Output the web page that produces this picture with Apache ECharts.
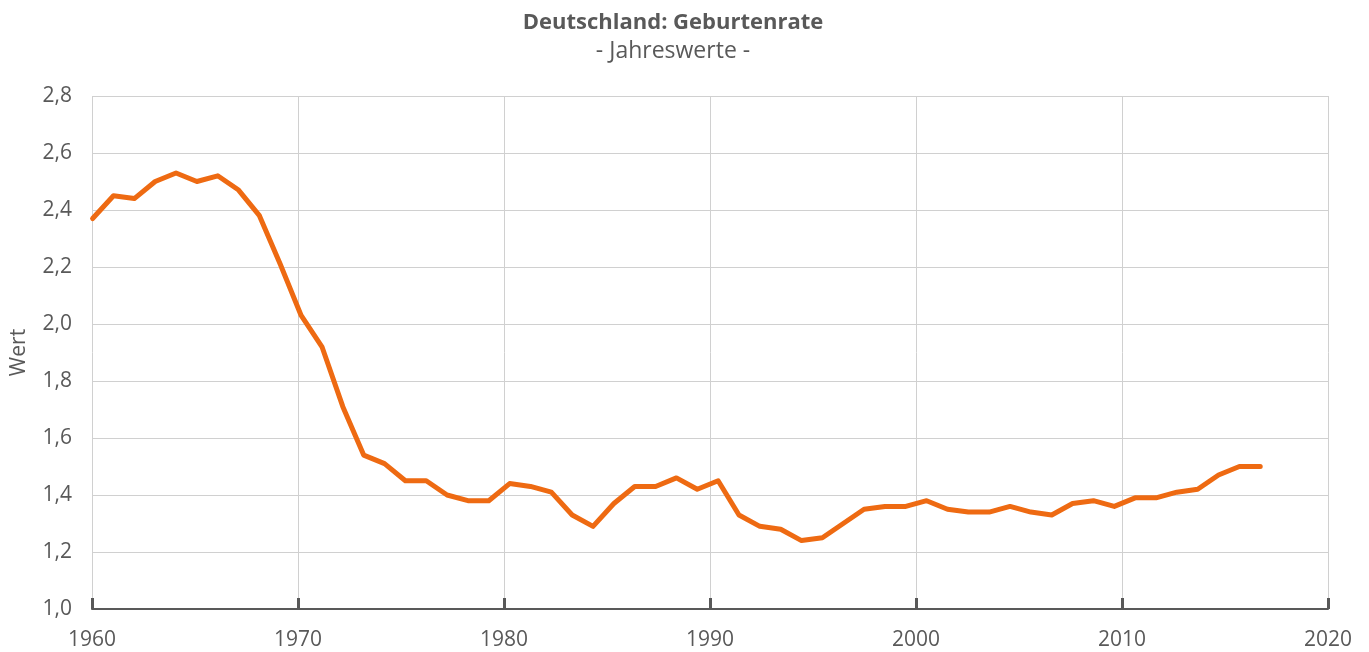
<!DOCTYPE html>
<html>
<head>
<meta charset="utf-8">
<title>Deutschland: Geburtenrate</title>
<script src="https://cdn.jsdelivr.net/npm/echarts@6/dist/echarts.min.js"></script>
<style>
  html, body { margin: 0; padding: 0; background: #fff; }
  #chart { width: 1369px; height: 652px; }
</style>
</head>
<body>
<div id="chart"></div>
<script>
// Geburtenrate Deutschland, Jahreswerte 1960-2016
const years = [
  1960, 1961, 1962, 1963, 1964, 1965, 1966, 1967, 1968, 1969,
  1970, 1971, 1972, 1973, 1974, 1975, 1976, 1977, 1978, 1979,
  1980, 1981, 1982, 1983, 1984, 1985, 1986, 1987, 1988, 1989,
  1990, 1991, 1992, 1993, 1994, 1995, 1996, 1997, 1998, 1999,
  2000, 2001, 2002, 2003, 2004, 2005, 2006, 2007, 2008, 2009,
  2010, 2011, 2012, 2013, 2014, 2015, 2016
];
const rates = [
  2.37, 2.45, 2.44, 2.50, 2.53, 2.50, 2.52, 2.47, 2.38, 2.21,
  2.03, 1.92, 1.71, 1.54, 1.51, 1.45, 1.45, 1.40, 1.38, 1.38,
  1.44, 1.43, 1.41, 1.33, 1.29, 1.37, 1.43, 1.43, 1.46, 1.42,
  1.45, 1.33, 1.29, 1.28, 1.24, 1.25, 1.30, 1.35, 1.36, 1.36,
  1.38, 1.35, 1.34, 1.34, 1.36, 1.34, 1.33, 1.37, 1.38, 1.36,
  1.39, 1.39, 1.41, 1.42, 1.47, 1.50, 1.50
];
const xTicks = [1960, 1970, 1980, 1990, 2000, 2010, 2020];
const yTicks = [1.0, 1.2, 1.4, 1.6, 1.8, 2.0, 2.2, 2.4, 2.6, 2.8];

const textColor = "#595959";
const font = "'Open Sans', 'DejaVu Sans', sans-serif";

const chart = echarts.init(document.getElementById("chart"));

chart.setOption({
  animation: false,
  backgroundColor: "#ffffff",
  textStyle: { fontFamily: font, color: textColor },
  title: {
    text: "Deutschland: Geburtenrate",
    subtext: "- Jahreswerte -",
    left: 668,
    textAlign: "center",
    top: 7,
    itemGap: 6,
    textStyle: { fontFamily: font, fontSize: 22, fontWeight: "bold", color: textColor },
    subtextStyle: { fontFamily: font, fontSize: 23, color: textColor },
  },
  grid: {
    left: 92,
    right: 41,
    top: 96,
    bottom: 43,
    containLabel: false,
  },
  xAxis: [
    {
      // sichtbare Achse mit Jahresbeschriftung
      type: "value",
      min: xTicks[0],
      max: xTicks[xTicks.length - 1],
      interval: 10,
      axisLine: { show: true, lineStyle: { color: textColor, width: 2 } },
      axisTick: { show: true, inside: true, length: 11, lineStyle: { color: textColor, width: 3 } },
      axisLabel: {
        fontFamily: font,
        fontSize: 21,
        color: textColor,
        margin: 21,
        formatter: (v) => String(v),
      },
      splitLine: { show: true, lineStyle: { color: "#d0d0d0", width: 1 } },
    },
    {
      // Datenachse der Linie (Excel-Datumsachse leicht versetzt)
      type: "value",
      min: 1959.97,
      max: 2019.25,
      show: false,
    },
  ],
  yAxis: {
    type: "value",
    min: yTicks[0],
    max: yTicks[yTicks.length - 1],
    interval: 0.2,
    name: "Wert",
    nameLocation: "middle",
    nameGap: 62,
    nameTextStyle: { fontFamily: font, fontSize: 21, color: textColor },
    axisLine: { show: false },
    axisTick: { show: false },
    axisLabel: {
      fontFamily: font,
      fontSize: 21,
      color: textColor,
      margin: 20,
      formatter: (v) => v.toFixed(1).replace(".", ","),
    },
    splitLine: { show: true, lineStyle: { color: "#d0d0d0", width: 1 } },
  },
  series: [
    {
      name: "Geburtenrate",
      type: "line",
      xAxisIndex: 1,
      data: years.map((y, i) => [y, rates[i]]),
      symbol: "none",
      lineStyle: { color: "#ee6a12", width: 5, cap: "round", join: "round" },
      z: 5,
    },
  ],
});
</script>
</body>
</html>
